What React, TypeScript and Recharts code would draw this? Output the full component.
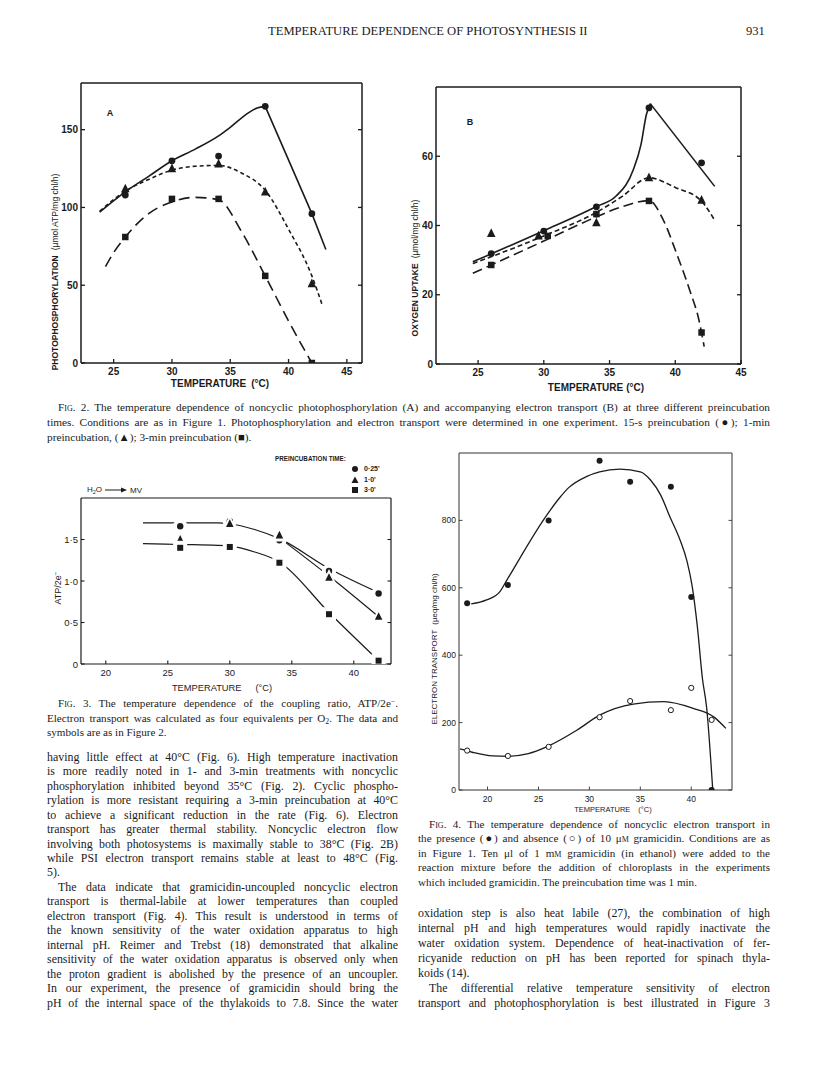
import React from "react";
import { ComposedChart, Line, Scatter, XAxis, YAxis, Label } from "recharts";

// Fig. 2A  photophosphorylation, µmol ATP/mg chl/h
const tempA = [26, 30, 34, 38, 42];
const atp15s = [108, 130, 133, 165, 96];
const atp1m = [112, 125, 128, 110, 51];
const atp3m = [81, 105.5, 105.5, 56, 0];
// hand drawn curves
const curveA15sRiseT = [23.8, 26, 28, 30, 32, 34, 35, 36.4, 37.3, 38];
const curveA15sRiseV = [97, 110, 120, 130, 137.5, 146, 151.5, 160, 164, 165];
const curveA15sFallT = [38, 42, 43.2];
const curveA15sFallV = [165, 96, 73];
const curveA1mT = [23.8, 26, 28, 30, 32, 34, 36, 38, 40, 42, 42.9];
const curveA1mV = [97.5, 110.5, 118, 124, 126.5, 127, 122, 111, 86, 56, 37];
const curveA3mT = [24.3, 25, 26, 28, 30, 32, 34, 36, 38, 40, 42];
const curveA3mV = [62, 71, 81, 96, 103.5, 106.5, 105, 84, 56, 27, 0];

// Fig. 2B  oxygen uptake, µmol/mg chl/h
const tempB15s = [26, 30, 34, 38, 42];
const o2_15s = [31.9, 38.4, 45.4, 74, 58.1];
const tempB1m = [26, 29.6, 34, 38, 42];
const o2_1m = [37.7, 37, 40.8, 53.8, 47.3];
const tempB3m = [26, 30.3, 34, 38, 42];
const o2_3m = [28.6, 37, 43.3, 47.1, 9.1];
const curveB15sRiseT = [24.6, 30, 34, 35.5, 36.8, 37.4, 37.8, 38.1];
const curveB15sRiseV = [29.5, 38.5, 45.5, 48.5, 56, 63.5, 72, 75.2];
const curveB15sFallT = [38.1, 43];
const curveB15sFallV = [75.2, 51.3];
const curveB1mT = [24.6, 30, 34, 36, 38, 40, 42, 43];
const curveB1mV = [29, 37, 43.8, 48.5, 53.8, 51, 47, 41.5];
const curveB3mT = [24.6, 30, 34, 36, 38, 39.1, 40.1, 41.1, 41.8, 42.2];
const curveB3mV = [26.2, 35.5, 42.5, 45.5, 47.2, 41.5, 31.9, 21.3, 12.7, 5];

// Fig. 3  ATP/2e-
const tempC = [26, 30, 34, 38, 42];
const ratio15s = [1.66, 1.72, 1.49, 1.12, 0.85];
const ratio1m = [1.5, 1.69, 1.55, 1.04, 0.57];
const ratio3m = [1.4, 1.41, 1.22, 0.6, 0.04];
const curveC15sT = [23, 26, 29, 30, 32, 34, 38, 42];
const curveC15sV = [1.7, 1.7, 1.7, 1.69, 1.62, 1.51, 1.15, 0.86];
const curveC1mT = [34, 38, 42];
const curveC1mV = [1.52, 1.06, 0.57];
const curveC3mT = [23, 26, 29, 30, 32, 34, 38, 42];
const curveC3mV = [1.45, 1.44, 1.43, 1.42, 1.35, 1.23, 0.62, 0.04];

// Fig. 4  electron transport, µeq/mg chl/h
const tempD = [18, 22, 26, 31, 34, 38, 40, 42];
const etGramicidin = [554, 608, 800, 977, 915, 900, 573, 0];
const etControl = [117, 101, 128, 216, 264, 237, 303, 208];
const curveDGramT = [18.4, 19.9, 21.2, 21.9, 25.8, 27.1, 28, 29.7, 31, 33, 35, 36, 37, 37.9, 38.9, 39.6, 40.1, 40.6, 41.1, 41.5, 42.1];
const curveDGramV = [552, 564, 588, 623, 815, 868, 898, 930, 944, 952, 944, 920, 875, 811, 742, 677, 603, 485, 330, 247, 5];
const curveDCtrlT = [17.3, 18.5, 20.5, 22, 24, 25.8, 28.8, 31, 34.3, 37.3, 40.2, 42.2, 43.4];
const curveDCtrlV = [122, 112, 101, 100, 108, 128, 178, 222, 255, 262, 242, 217, 183];

const tempTicks = [25, 30, 35, 40, 45];
const tempTicksD = [20, 25, 30, 35, 40];
const ticksA = [0, 50, 100, 150];
const ticksB = [0, 20, 40, 60];
const ticksC = [0, 0.5, 1, 1.5];
const ticksD = [0, 200, 400, 600, 800];

const ink = "#1b1b1b";
const sans = "'Liberation Sans', Arial, sans-serif";
const serif = "'Liberation Serif', 'Times New Roman', serif";

const pts = (t: number[], v: number[]) => t.map((x, i) => ({ x, y: v[i] }));

// marker shapes
const dot = (r: number, halo = 0) => (p: any) => (
  <g>
    {halo > 0 && <circle cx={p.cx} cy={p.cy} r={r + halo} fill="#fff" />}
    <circle cx={p.cx} cy={p.cy} r={r} fill={ink} />
  </g>
);
const ring = (r: number) => (p: any) => (
  <circle cx={p.cx} cy={p.cy} r={r} fill="#fff" stroke={ink} strokeWidth={1} />
);
const tri = (s: number, halo = 0) => (p: any) => {
  const poly = (k: number) =>
    `${p.cx},${p.cy - k * 0.6} ${p.cx - k / 2},${p.cy + k * 0.42} ${p.cx + k / 2},${p.cy + k * 0.42}`;
  return (
    <g>
      {halo > 0 && <polygon points={poly(s + halo * 2)} fill="#fff" />}
      <polygon points={poly(s)} fill={ink} />
    </g>
  );
};
const sq = (s: number, halo = 0) => (p: any) => (
  <g>
    {halo > 0 && <rect x={p.cx - s / 2 - halo} y={p.cy - s / 2 - halo} width={s + 2 * halo} height={s + 2 * halo} fill="#fff" />}
    <rect x={p.cx - s / 2} y={p.cy - s / 2} width={s} height={s} fill={ink} />
  </g>
);

type Side = "left" | "right" | "top" | "bottom";
type TickStyle = { len: number; stroke: string; width: number; size: number; weight: number; xGap: number; yGap: number };

const tickMark = (side: Side, st: TickStyle, fmt?: (v: number) => string) => (p: any) => {
  const { x, y } = p;
  const v = p.payload ? p.payload.value : 0;
  const L = st.len;
  const d = side === "bottom" ? [0, -L] : side === "top" ? [0, L] : side === "left" ? [L, 0] : [-L, 0];
  return (
    <g>
      <line x1={x} y1={y} x2={x + d[0]} y2={y + d[1]} stroke={st.stroke} strokeWidth={st.width} />
      {fmt && side === "bottom" && (
        <text x={x} y={y + st.xGap} textAnchor="middle" dominantBaseline="central" fontFamily={sans} fontSize={st.size} fontWeight={st.weight} fill={ink}>
          {fmt(v)}
        </text>
      )}
      {fmt && side === "left" && (
        <text x={x - st.yGap} y={y} textAnchor="end" dominantBaseline="central" fontFamily={sans} fontSize={st.size} fontWeight={st.weight} fill={ink}>
          {fmt(v)}
        </text>
      )}
    </g>
  );
};

type PanelProps = {
  left: number;
  top: number;
  w: number;
  h: number;
  yW: number;
  xH: number;
  rPad?: number;
  xDomain: [number, number];
  yDomain: [number, number];
  xTicks: number[];
  yTicks: number[];
  yFmt?: (v: number) => string;
  tick: TickStyle;
  frame: { stroke: string; width: number };
  titles: (px: (X: number) => number, py: (Y: number) => number) => React.ReactNode;
  children: React.ReactNode;
};

function Panel(props: PanelProps) {
  const { left, top, w, h, yW, xH, tick, frame } = props;
  const rPad = props.rPad ?? 14;
  const ox = left - yW;
  const oy = top - 1;
  const px = (X: number) => X - ox;
  const py = (Y: number) => Y - oy;
  const axisLine = { stroke: frame.stroke, strokeWidth: frame.width };
  const fmt = props.yFmt || ((v: number) => String(v));
  return (
    <div style={{ position: "absolute", left: ox, top: oy }}>
      <ComposedChart width={yW + w + 1 + rPad} height={1 + h + xH} margin={{ top: 0, right: rPad, bottom: 0, left: 0 }}>
        <XAxis dataKey="x" type="number" domain={props.xDomain} allowDataOverflow ticks={props.xTicks} interval={0}
          height={xH} axisLine={axisLine} tickLine={false} tickSize={0} tickMargin={0}
          tick={tickMark("bottom", tick, (v) => String(v))} />
        <XAxis xAxisId="t" orientation="top" type="number" domain={props.xDomain} allowDataOverflow ticks={props.xTicks} interval={0}
          height={1} axisLine={axisLine} tickLine={false} tickSize={0} tickMargin={0} tick={tickMark("top", tick)} />
        <YAxis dataKey="y" type="number" domain={props.yDomain} allowDataOverflow ticks={props.yTicks} interval={0}
          width={yW} axisLine={axisLine} tickLine={false} tickSize={0} tickMargin={0}
          tick={tickMark("left", tick, fmt)}
          label={<Label content={() => <g>{props.titles(px, py)}</g>} />} />
        <YAxis yAxisId="r" orientation="right" type="number" domain={props.yDomain} allowDataOverflow ticks={props.yTicks} interval={0}
          width={1} axisLine={axisLine} tickLine={false} tickSize={0} tickMargin={0} tick={tickMark("right", tick)} />
        {props.children}
      </ComposedChart>
    </div>
  );
}

const curve = (t: number[], v: number[], dash: string | undefined, width: number, type: "monotone" | "linear" = "monotone") => (
  <Line data={pts(t, v)} dataKey="y" type={type} stroke={ink} strokeWidth={width} strokeDasharray={dash}
    dot={false} activeDot={false} isAnimationActive={false} legendType="none" />
);

const hTitle = (x: number, y: number, size: number, weight: number, gap: number) => (
  <text x={x} y={y} textAnchor="middle" dominantBaseline="central" fontFamily={sans} fontSize={size} fontWeight={weight} fill={ink}>
    TEMPERATURE<tspan dx={gap}>(°C)</tspan>
  </text>
);

const tickFig2: TickStyle = { len: 4, stroke: ink, width: 1.3, size: 10, weight: 700, xGap: 8, yGap: 3 };
const tickFig3: TickStyle = { len: 3.5, stroke: ink, width: 1.1, size: 9.5, weight: 400, xGap: 8, yGap: 3 };
const tickFig4: TickStyle = { len: 3.5, stroke: "#333", width: 0.9, size: 8.5, weight: 400, xGap: 9, yGap: 3 };

type Ln = { t: React.ReactNode; last?: boolean; indent?: boolean };

function Lines({ left, top, width, size, lh, lines }: { left: number; top: number; width: number; size: number; lh: number; lines: Ln[] }) {
  return (
    <div style={{ position: "absolute", left, top, width, fontFamily: serif, fontSize: size, lineHeight: lh + "px", color: ink }}>
      {lines.map((l, i) => (
        <div key={i} style={{ whiteSpace: "nowrap", textAlign: "justify", textAlignLast: l.last ? "left" : "justify", paddingLeft: l.indent ? 11 : 0 }}>
          {l.t}
        </div>
      ))}
    </div>
  );
}

const sc = (s: string) => <span style={{ fontVariant: "small-caps" }}>{s}</span>;
const fig = (n: number) => <>F{sc("ig")}. {n}.</>;
const lowered = (s: string) => <span style={{ fontSize: "0.7em", verticalAlign: "-0.3em", lineHeight: 0 }}>{s}</span>;
const raised = (s: string) => <span style={{ fontSize: "0.7em", verticalAlign: "0.45em", lineHeight: 0 }}>{s}</span>;

const cap2: Ln[] = [
  { t: <>{fig(2)} The temperature dependence of noncyclic photophosphorylation (A) and accompanying electron transport (B) at three different preincubation</>, indent: true },
  { t: <>times. Conditions are as in Figure 1. Photophosphorylation and electron transport were determined in one experiment. 15-s preincubation (●); 1-min</> },
  { t: <>preincubation, (▲); 3-min preincubation (■).</>, last: true },
];
const cap3: Ln[] = [
  { t: <>{fig(3)} The temperature dependence of the coupling ratio, ATP/2e{raised("−")}.</>, indent: true },
  { t: <>Electron transport was calculated as four equivalents per O{lowered("2")}. The data and</> },
  { t: <>symbols are as in Figure 2.</>, last: true },
];
const cap4: Ln[] = [
  { t: <>{fig(4)} The temperature dependence of noncyclic electron transport in</>, indent: true },
  { t: <>the presence (●) and absence (○) of 10 μ{sc("m")} gramicidin. Conditions are as</> },
  { t: <>in Figure 1. Ten μl of 1 m{sc("m")} gramicidin (in ethanol) were added to the</> },
  { t: <>reaction mixture before the addition of chloroplasts in the experiments</> },
  { t: <>which included gramicidin. The preincubation time was 1 min.</>, last: true },
];
const bodyLeft: Ln[] = [
  { t: "having little effect at 40°C (Fig. 6). High temperature inactivation" },
  { t: "is more readily noted in 1- and 3-min treatments with noncyclic" },
  { t: "phosphorylation inhibited beyond 35°C (Fig. 2). Cyclic phospho-" },
  { t: "rylation is more resistant requiring a 3-min preincubation at 40°C" },
  { t: "to achieve a significant reduction in the rate (Fig. 6). Electron" },
  { t: "transport has greater thermal stability. Noncyclic electron flow" },
  { t: "involving both photosystems is maximally stable to 38°C (Fig. 2B)" },
  { t: "while PSI electron transport remains stable at least to 48°C (Fig." },
  { t: "5).", last: true },
  { t: "The data indicate that gramicidin-uncoupled noncyclic electron", indent: true },
  { t: "transport is thermal-labile at lower temperatures than coupled" },
  { t: "electron transport (Fig. 4). This result is understood in terms of" },
  { t: "the known sensitivity of the water oxidation apparatus to high" },
  { t: "internal pH. Reimer and Trebst (18) demonstrated that alkaline" },
  { t: "sensitivity of the water oxidation apparatus is observed only when" },
  { t: "the proton gradient is abolished by the presence of an uncoupler." },
  { t: "In our experiment, the presence of gramicidin should bring the" },
  { t: "pH of the internal space of the thylakoids to 7.8. Since the water" },
];
const bodyRight: Ln[] = [
  { t: "oxidation step is also heat labile (27), the combination of high" },
  { t: "internal pH and high temperatures would rapidly inactivate the" },
  { t: "water oxidation system. Dependence of heat-inactivation of fer-" },
  { t: "ricyanide reduction on pH has been reported for spinach thyla-" },
  { t: "koids (14).", last: true },
  { t: "The differential relative temperature sensitivity of electron", indent: true },
  { t: "transport and photophosphorylation is best illustrated in Figure 3" },
];

const legendSym = (kind: string) => (
  <svg width={8} height={8} style={{ display: "block" }}>
    {kind === "c" && <circle cx={4} cy={4} r={3} fill={ink} />}
    {kind === "t" && <polygon points="4,0.5 0.5,7 7.5,7" fill={ink} />}
    {kind === "s" && <rect x={1} y={1} width={6} height={6} fill={ink} />}
  </svg>
);

export default function App() {
  return (
    <div style={{ position: "absolute", left: 0, top: 0, width: 816, height: 1073, background: "#fff", color: ink, overflow: "hidden" }}>
      <div style={{ position: "absolute", left: 268, top: 24, fontFamily: serif, fontSize: 12.6, whiteSpace: "nowrap" }}>
        TEMPERATURE DEPENDENCE OF PHOTOSYNTHESIS II
      </div>
      <div style={{ position: "absolute", left: 746, top: 24, fontFamily: serif, fontSize: 12.6 }}>931</div>

      {/* Fig. 2A */}
      <Panel left={81} top={83} w={281} h={280} yW={40} xH={30} xDomain={[22.2, 46.3]} yDomain={[0, 180]}
        xTicks={tempTicks} yTicks={ticksA} tick={tickFig2} frame={{ stroke: ink, width: 1.5 }}
        titles={(px, py) => (
          <>
            {hTitle(px(220), py(383), 10, 700, 5)}
            <text transform={`translate(${px(55)},${py(272)}) rotate(-90)`} textAnchor="middle" dominantBaseline="central" fontFamily={sans} fontSize={8.5} fill={ink}>
              <tspan fontWeight={700}>PHOTOPHOSPHORYLATION</tspan>
              <tspan dx={5}>(µmol ATP/mg chl/h)</tspan>
            </text>
            <text x={px(110)} y={py(113)} textAnchor="middle" dominantBaseline="central" fontFamily={sans} fontSize={9} fontWeight={700} fill={ink}>A</text>
          </>
        )}>
        {curve(curveA15sRiseT, curveA15sRiseV, undefined, 1.6)}
        {curve(curveA15sFallT, curveA15sFallV, undefined, 1.6, "linear")}
        {curve(curveA1mT, curveA1mV, "4 3", 1.6)}
        {curve(curveA3mT, curveA3mV, "11 6", 1.6)}
        <Scatter data={pts(tempA, atp15s)} dataKey="y" shape={dot(3.4)} isAnimationActive={false} />
        <Scatter data={pts(tempA, atp1m)} dataKey="y" shape={tri(8.5)} isAnimationActive={false} />
        <Scatter data={pts(tempA, atp3m)} dataKey="y" shape={sq(6.5)} isAnimationActive={false} />
      </Panel>

      {/* Fig. 2B */}
      <Panel left={436} top={87} w={305} h={277} yW={40} xH={30} xDomain={[21.8, 45]} yDomain={[0, 80]}
        xTicks={tempTicks} yTicks={ticksB} tick={tickFig2} frame={{ stroke: ink, width: 1.5 }}
        titles={(px, py) => (
          <>
            {hTitle(px(596), py(387), 10, 700, 3)}
            <text transform={`translate(${px(415)},${py(268)}) rotate(-90)`} textAnchor="middle" dominantBaseline="central" fontFamily={sans} fontSize={8.5} fill={ink}>
              <tspan fontWeight={700}>OXYGEN UPTAKE</tspan>
              <tspan dx={5}>(µmol/mg chl/h)</tspan>
            </text>
            <text x={px(470)} y={py(122)} textAnchor="middle" dominantBaseline="central" fontFamily={sans} fontSize={9} fontWeight={700} fill={ink}>B</text>
          </>
        )}>
        {curve(curveB15sRiseT, curveB15sRiseV, undefined, 1.6)}
        {curve(curveB15sFallT, curveB15sFallV, undefined, 1.6, "linear")}
        {curve(curveB1mT, curveB1mV, "5 3", 1.6)}
        {curve(curveB3mT, curveB3mV, "10 5", 1.6)}
        <Scatter data={pts(tempB15s, o2_15s)} dataKey="y" shape={dot(3.4)} isAnimationActive={false} />
        <Scatter data={pts(tempB1m, o2_1m)} dataKey="y" shape={tri(8.5)} isAnimationActive={false} />
        <Scatter data={pts(tempB3m, o2_3m)} dataKey="y" shape={sq(6.5)} isAnimationActive={false} />
      </Panel>

      <Lines left={47} top={400.1} width={723} size={11.3} lh={14.8} lines={cap2} />

      {/* Fig. 3 */}
      <Panel left={81} top={498} w={310} h={166} yW={40} xH={30} xDomain={[18, 43]} yDomain={[0, 2]}
        xTicks={tempTicksD} yTicks={ticksC} yFmt={(v) => (v === 0 ? "0" : v.toFixed(1).replace(".", "·"))}
        tick={tickFig3} frame={{ stroke: ink, width: 1.2 }}
        titles={(px, py) => (
          <>
            {hTitle(px(222), py(688), 9.3, 400, 14)}
            <text transform={`translate(${px(58)},${py(588)}) rotate(-90)`} textAnchor="middle" dominantBaseline="central" fontFamily={sans} fontSize={9} fill={ink}>
              ATP/2e<tspan dy={-3} fontSize={6.5}>−</tspan>
            </text>
          </>
        )}>
        {curve(curveC15sT, curveC15sV, undefined, 1.2)}
        {curve(curveC1mT, curveC1mV, undefined, 1.2)}
        {curve(curveC3mT, curveC3mV, undefined, 1.2)}
        <Scatter data={pts(tempC, ratio15s)} dataKey="y" shape={dot(3.2, 4)} isAnimationActive={false} />
        <Scatter data={pts(tempC, ratio1m)} dataKey="y" shape={tri(7.5, 3.5)} isAnimationActive={false} />
        <Scatter data={pts(tempC, ratio3m)} dataKey="y" shape={sq(6, 4)} isAnimationActive={false} />
      </Panel>

      <div style={{ position: "absolute", left: 87, top: 485, fontFamily: sans, fontSize: 8, whiteSpace: "nowrap", display: "flex", alignItems: "center" }}>
        <span>H<span style={{ fontSize: 5.5, verticalAlign: "-2px" }}>2</span>O</span>
        <svg width={24} height={8} style={{ margin: "0 2px" }}>
          <line x1={1} y1={4} x2={18} y2={4} stroke={ink} strokeWidth={1} />
          <polygon points="17,1.5 23,4 17,6.5" fill={ink} />
        </svg>
        <span>MV</span>
      </div>
      <div style={{ position: "absolute", left: 275, top: 455, fontFamily: sans, fontSize: 6.3, fontWeight: 700, whiteSpace: "nowrap" }}>
        PREINCUBATION TIME:
      </div>
      {[
        { k: "c", t: "0·25'", y: 469 },
        { k: "t", t: "1·0'", y: 479.5 },
        { k: "s", t: "3·0'", y: 490 },
      ].map((e) => (
        <div key={e.k} style={{ position: "absolute", left: 351, top: e.y - 4, display: "flex", alignItems: "center", fontFamily: sans, fontSize: 7, fontWeight: 700, lineHeight: "8px" }}>
          {legendSym(e.k)}
          <span style={{ marginLeft: 5 }}>{e.t}</span>
        </div>
      ))}

      <Lines left={47} top={696.3} width={351} size={11.1} lh={14.5} lines={cap3} />
      <Lines left={47} top={749.8} width={351} size={11.9} lh={14.45} lines={bodyLeft} />

      {/* Fig. 4 */}
      <Panel left={459} top={453} w={273} h={337} yW={40} xH={30} xDomain={[17.2, 44]} yDomain={[0, 1000]}
        xTicks={tempTicksD} yTicks={ticksD} tick={tickFig4} frame={{ stroke: "#333", width: 1 }}
        titles={(px, py) => (
          <>
            {hTitle(px(613), py(809), 7.5, 400, 8)}
            <text transform={`translate(${px(434)},${py(649)}) rotate(-90)`} textAnchor="middle" dominantBaseline="central" fontFamily={sans} fontSize={8} fill={ink}>
              ELECTRON TRANSPORT<tspan dx={5}>(µeq/mg chl/h)</tspan>
            </text>
          </>
        )}>
        {curve(curveDGramT, curveDGramV, undefined, 1.3)}
        {curve(curveDCtrlT, curveDCtrlV, undefined, 1.3)}
        <Scatter data={pts(tempD, etGramicidin)} dataKey="y" shape={dot(3)} isAnimationActive={false} />
        <Scatter data={pts(tempD, etControl)} dataKey="y" shape={ring(2.6)} isAnimationActive={false} />
      </Panel>

      <Lines left={418} top={816.8} width={352} size={11.1} lh={14.5} lines={cap4} />
      <Lines left={418} top={905.5} width={352} size={11.9} lh={15.1} lines={bodyRight} />
    </div>
  );
}
